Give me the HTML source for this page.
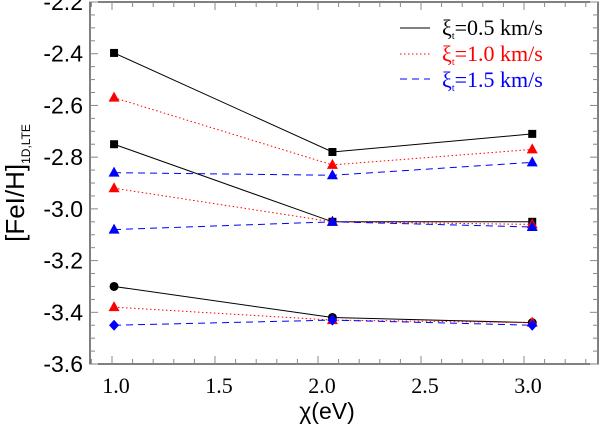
<!DOCTYPE html>
<html><head><meta charset="utf-8"><style>
body{margin:0;background:#fff}
svg{display:block}
</style></head><body>
<svg id="chart" width="602" height="431" xmlns="http://www.w3.org/2000/svg">
<rect x="90" y="2" width="508" height="362" fill="none" stroke="#000" stroke-width="1"/>
<g id="ticks"></g>
<g id="series"></g>
<text x="24" y="183" transform="rotate(-90 24 183)" text-anchor="middle" font-family="Liberation Sans, sans-serif" font-size="26">[FeI/H]<tspan font-size="12" dy="6">1D,LTE</tspan></text>
<text x="327" y="419" text-anchor="middle" font-family="Liberation Sans, sans-serif" font-size="23">χ(eV)</text>
<g font-family="Liberation Serif, serif" font-size="22">
<line x1="400" y1="28" x2="430" y2="28" stroke="#000"/>
<text x="442" y="35" fill="#000">ξ<tspan font-size="10" dy="4">t</tspan><tspan dy="-4">=0.5 km/s</tspan></text>
<line x1="400" y1="54" x2="430" y2="54" stroke="#f00" stroke-dasharray="1.5,2.5"/>
<text x="442" y="61" fill="#f00">ξ<tspan font-size="10" dy="4">t</tspan><tspan dy="-4">=1.0 km/s</tspan></text>
<line x1="400" y1="79" x2="430" y2="79" stroke="#00f" stroke-dasharray="7,5"/>
<text x="442" y="87" fill="#00f">ξ<tspan font-size="10" dy="4">t</tspan><tspan dy="-4">=1.5 km/s</tspan></text>
</g>
</svg>
<script>
const xVals=[1.01,2.07,3.04];
const xTicks=[1.0,1.5,2.0,2.5,3.0];
const yTicks=[-2.2,-2.4,-2.6,-2.8,-3.0,-3.2,-3.4,-3.6];
const blackSq1=[-2.397,-2.78,-2.71];
const blackSq2=[-2.75,-3.05,-3.05];
const blackCirc=[-3.30,-3.42,-3.44];
const red1=[-2.57,-2.83,-2.77];
const red2=[-2.92,-3.05,-3.06];
const red3=[-3.38,-3.43,-3.44];
const blue1=[-2.86,-2.87,-2.82];
const blue2=[-3.08,-3.05,-3.07];
const blueDia=[-3.45,-3.43,-3.45];
const NS='http://www.w3.org/2000/svg';
const X=v=>112+(v-1)*206;
const Y=v=>2+(-2.2-v)*258.6;
function mk(t,a,p){const e=document.createElementNS(NS,t);for(const k in a)e.setAttribute(k,a[k]);p.appendChild(e);return e;}
const tk=document.getElementById('ticks');
for(let v=0.9;v<=3.36;v+=0.1){const x=X(v);if(x<90||x>598)continue;const maj=Math.abs(v*2-Math.round(v*2))<1e-6;const l=maj?8:5;
mk('line',{x1:x,y1:364,x2:x,y2:364-l,stroke:'#888'},tk);mk('line',{x1:x,y1:2,x2:x,y2:2+l,stroke:'#888'},tk);}
for(let v=-2.2;v>=-3.61;v-=0.05){const y=Y(v);const maj=Math.abs(v*5-Math.round(v*5))<1e-6;const l=maj?8:5;
mk('line',{x1:90,y1:y,x2:90+l,y2:y,stroke:'#888'},tk);mk('line',{x1:598,y1:y,x2:598-l,y2:y,stroke:'#888'},tk);}
xTicks.forEach(v=>{const t=mk('text',{x:X(v)+4,y:393,'text-anchor':'middle','font-family':'Liberation Serif, serif','font-size':'22'},tk);t.textContent=v.toFixed(1);

});
yTicks.forEach(v=>{const t=mk('text',{x:83,y:Y(v)+8,'text-anchor':'end','font-family':'Liberation Sans, sans-serif','font-size':'23'},tk);t.textContent=v.toFixed(1);

});
const sg=document.getElementById('series');
function series(vals,color,dash,marker,name){
const g=mk('g',{},sg);


const pts=vals.map((v,i)=>X(xVals[i])+','+Y(v)).join(' ');
const a={points:pts,fill:'none',stroke:color,'stroke-width':1};if(dash)a['stroke-dasharray']=dash;mk('polyline',a,g);
vals.forEach((v,i)=>{const x=X(xVals[i]),y=Y(v);let m;
if(marker==='sq')m=mk('rect',{x:x-4,y:y-4,width:8,height:8,fill:color},g);
else if(marker==='circ')m=mk('circle',{cx:x,cy:y,r:4.5,fill:color},g);
else if(marker==='tri')m=mk('polygon',{points:`${x},${y-6} ${x-5.5},${y+4} ${x+5.5},${y+4}`,fill:color},g);
else m=mk('polygon',{points:`${x},${y-5.5} ${x+5},${y} ${x},${y+5.5} ${x-5},${y}`,fill:color},g);

});}
series(blackSq1,'#000',null,'sq','black-series-1');
series(blackSq2,'#000',null,'sq','black-series-2');
series(blackCirc,'#000',null,'circ','black-series-3');
series(red1,'#f00','1.5,2.5','tri','red-series-1');
series(red2,'#f00','1.5,2.5','tri','red-series-2');
series(red3,'#f00','1.5,2.5','tri','red-series-3');
series(blue1,'#00f','7,5','tri','blue-series-1');
series(blue2,'#00f','7,5','tri','blue-series-2');
series(blueDia,'#00f','7,5','dia','blue-series-3');
</script>
</body></html>
